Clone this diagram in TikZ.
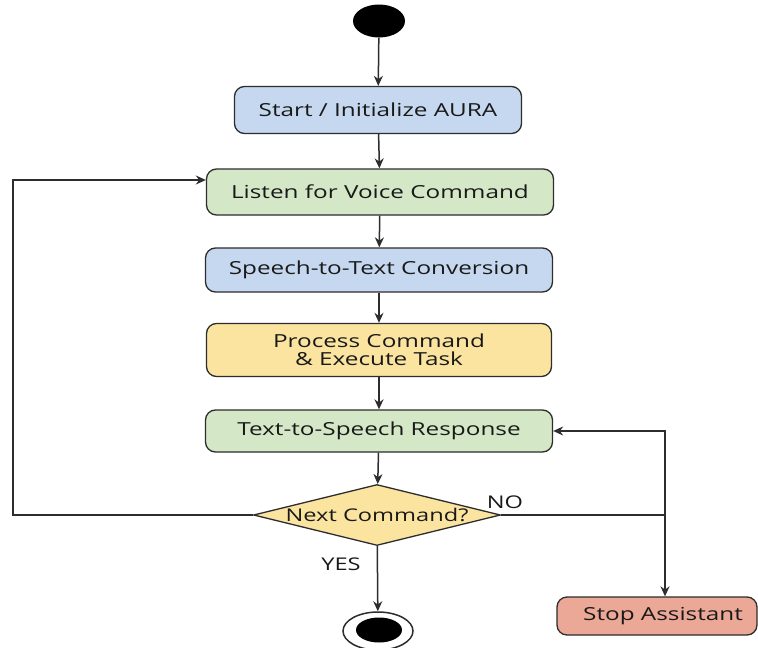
\documentclass[tikz,border=0pt]{standalone}
\usepackage{fontspec}
\setmainfont[FakeStretch=1.35]{Open Sans}
\usetikzlibrary{shapes.geometric,arrows.meta}
\definecolor{cblue}{RGB}{198,216,239}
\definecolor{cgreen}{RGB}{212,231,199}
\definecolor{cyellow}{RGB}{251,228,160}
\definecolor{cred}{RGB}{236,168,150}
\definecolor{cline}{RGB}{45,45,45}
\tikzset{
  box/.style={draw=cline, line width=1.3pt, rounded corners=10pt, inner sep=0pt,
    align=center, font=\fontsize{18}{18}\selectfont, text=black!90},
  conn/.style={draw=cline, line width=1.5pt, -{Stealth[length=10pt,width=9pt]}},
  line/.style={draw=cline, line width=1.5pt},
  lbl/.style={font=\fontsize{17.5}{19}\selectfont, text=black!90, inner sep=0pt}
}
\begin{document}
\begin{tikzpicture}[x=1pt,y=-1pt]
\useasboundingbox (0,0) rectangle (758,648);
\fill[white] (0,0) rectangle (758,648);
\node[ellipse, fill=black, minimum width=52pt, minimum height=33pt, inner sep=0pt] (start) at (379,21) {};
\node[box, fill=cblue, minimum width=287pt, minimum height=47pt] (init) at (378,110) {Start / Initialize AURA};
\node[box, fill=cgreen, minimum width=347pt, minimum height=46pt] (listen) at (380,192) {Listen for Voice Command};
\node[box, fill=cblue, minimum width=347pt, minimum height=44pt] (s2t) at (379,270) {Speech-to-Text Conversion};
\node[box, fill=cyellow, minimum width=345pt, minimum height=53pt] (proc) at (379,350) {Process Command\\\& Execute Task};
\node[box, fill=cgreen, minimum width=347pt, minimum height=42pt] (tts) at (379,431) {Text-to-Speech Response};
\node[diamond, aspect=4, draw=cline, line width=1.3pt, fill=cyellow, inner sep=0pt,
  minimum width=247pt, minimum height=61pt, font=\fontsize{17.5}{20}\selectfont, text=black!90] (dec) at (377,515) {Next Command?};
\node[box, fill=cred, minimum width=200pt, minimum height=38pt] (stop) at (657,616) {\hspace*{12pt}Stop Assistant};
\node[ellipse, draw=cline, line width=1.5pt, fill=white, minimum width=70pt, minimum height=38pt, inner sep=0pt] (endo) at (378,631) {};
\node[ellipse, fill=black, minimum width=46pt, minimum height=25pt, inner sep=0pt] (endi) at (379,630) {};

\coordinate (lA) at (13,515);
\coordinate (lB) at (13,180);
\coordinate (rA) at (665,515);
\coordinate (rB) at (665,431);

\draw[conn] (start) -- (init);
\draw[conn] (init) -- (listen);
\draw[conn] (listen) -- (s2t);
\draw[conn] (s2t) -- (proc);
\draw[conn] (proc) -- (tts);
\draw[conn] (tts) -- (dec);
\draw[conn] (dec) -- (endo);
\draw[conn] (dec.west) -- (lA) -- (lB) -- (lB -| listen.west);
\draw[line] (dec.east) -- (rA);
\draw[conn] (rA) -- (rB) -- (tts.east);
\draw[conn] (rA) -- (stop.north -| rA);

\node[lbl] (no) at (505,502) {NO};
\node[lbl] (yes) at (341,564) {YES};
\end{tikzpicture}
\end{document}
